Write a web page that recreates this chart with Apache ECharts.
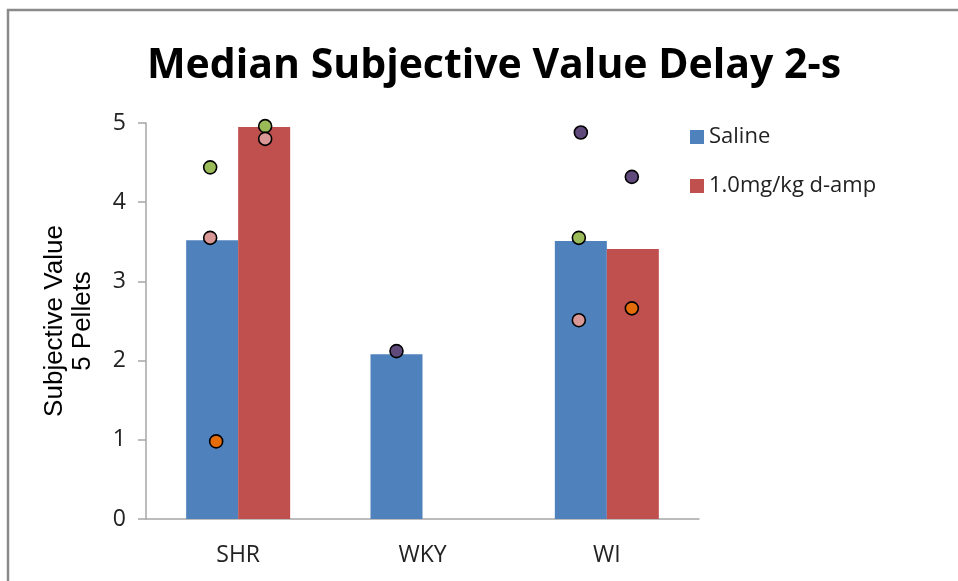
<!DOCTYPE html>
<html>
<head>
<meta charset="utf-8">
<script src="https://cdn.jsdelivr.net/npm/echarts@6/dist/echarts.min.js"></script>
<style>html,body{margin:0;padding:0;background:#fff;}#c{width:958px;height:581px;}</style>
</head>
<body>
<div id="c"></div>
<script>
const categories = ['SHR', 'WKY', 'WI'];
const yTicks = [0, 1, 2, 3, 4, 5];
const salineMedian = [3.52, 2.08, 3.51];
const dampMedian = [4.95, null, 3.41];
// individual points (colour groups), on Saline bars and on d-amp bars
const greenSaline = [4.44, null, 3.55];
const greenDamp = [4.96, null, null];
const pinkSaline = [3.55, null, 2.51];
const pinkDamp = [4.80, null, null];
const orangeSaline = [0.98, null, null];
const orangeDamp = [null, null, 2.66];
const purpleSaline = [null, 2.12, 4.88];
const purpleDamp = [null, null, 4.32];

const chart = echarts.init(document.getElementById('c'), null, {renderer: 'canvas'});
const BW = 52;
function pts(name, data, color, dx) {
  return {
    name: name, type: 'scatter', data: data, symbol: 'circle', symbolSize: 13,
    symbolOffset: [dx, 0], z: 5,
    itemStyle: {color: color, borderColor: '#000', borderWidth: 1.6, opacity: 1}
  };
}
const tickFont = {fontFamily: 'Open Sans', fontSize: 23, color: '#222'};
chart.setOption({
  animation: false,
  backgroundColor: '#fff',
  title: {
    text: 'Median Subjective Value Delay 2-s',
    left: 489, top: 41, textAlign: 'center',
    textStyle: {fontFamily: 'Open Sans', fontWeight: 'bold', fontSize: 41, color: '#000'}
  },
  graphic: [{
    type: 'polyline', silent: true,
    shape: {points: [[8, 581], [8, 10], [958, 10]]},
    style: {stroke: '#8a8a8a', lineWidth: 2.5, fill: null}
  }],
  legend: {
    orient: 'vertical', left: 685, top: 121, itemWidth: 14, itemHeight: 14, itemGap: 27,
    icon: 'rect',
    data: ['Saline', '1.0mg/kg d-amp'],
    textStyle: {fontFamily: 'Open Sans', fontSize: 22, color: '#222', padding: [0, 0, 0, 0]}
  },
  grid: {left: 146, right: 259, top: 123, bottom: 62, containLabel: false},
  xAxis: {
    type: 'category', data: categories,
    axisLine: {lineStyle: {color: '#a6a6a6', width: 1.5}},
    axisTick: {show: false},
    axisLabel: Object.assign({margin: 25}, tickFont)
  },
  yAxis: {
    type: 'value', min: 0, max: 5, interval: 1,
    name: 'Subjective Value\n5 Pellets', nameLocation: 'middle', nameGap: 49, nameRotate: 90,
    nameTextStyle: {fontFamily: 'Liberation Sans', fontSize: 26, lineHeight: 28, color: '#000'},
    axisLine: {show: true, lineStyle: {color: '#a6a6a6', width: 1.5}},
    axisTick: {show: true, length: 8, lineStyle: {color: '#a6a6a6', width: 1.5}},
    splitLine: {show: false},
    axisLabel: Object.assign({margin: 20, formatter: v => yTicks.includes(v) ? String(v) : ''}, tickFont)
  },
  series: [
    {name: 'Saline', type: 'bar', data: salineMedian, barWidth: BW, barGap: '0%',
      itemStyle: {color: '#4F81BD'}},
    {name: '1.0mg/kg d-amp', type: 'bar', data: dampMedian, barWidth: BW, barGap: '0%',
      itemStyle: {color: '#C0504D'}},
    pts('green-s', greenSaline, '#9BBB59', -BW / 2 - 2),
    pts('green-d', greenDamp, '#9BBB59', BW / 2 + 1),
    pts('pink-s', pinkSaline, '#D99795', -BW / 2 - 2),
    pts('pink-d', pinkDamp, '#D99795', BW / 2 + 1),
    pts('orange-s', orangeSaline, '#E46C0A', -BW / 2 + 4),
    pts('orange-d', orangeDamp, '#E46C0A', BW / 2 - 1),
    pts('purple-s', purpleSaline, '#604A7B', -BW / 2),
    pts('purple-d', purpleDamp, '#604A7B', BW / 2 - 1)
  ]
});
</script>
</body>
</html>
